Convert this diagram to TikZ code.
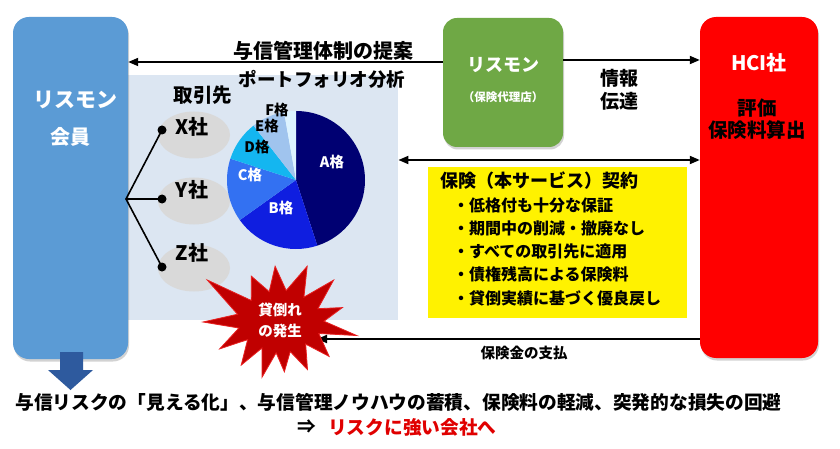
\documentclass[tikz,border=0pt]{standalone}
\usepackage{fontspec}
\setmainfont{Noto Sans CJK JP}
\usetikzlibrary{arrows.meta,shapes.geometric,shadows}
\definecolor{boxblue}{HTML}{5B9BD5}
\definecolor{boxgreen}{HTML}{6FA845}
\definecolor{bgblue}{HTML}{DCE6F2}
\definecolor{ellgray}{HTML}{D9D9D9}
\definecolor{pieA}{HTML}{000072}
\definecolor{pieB}{HTML}{0F1EE0}
\definecolor{pieC}{HTML}{3371F2}
\definecolor{pieD}{HTML}{14B6F0}
\definecolor{pieE}{HTML}{A0C4EE}
\definecolor{pieF}{HTML}{DDF3FF}
\definecolor{burstred}{HTML}{C00000}
\definecolor{burstedge}{HTML}{E82020}
\definecolor{downblue}{HTML}{2E5A9E}
\definecolor{redtext}{HTML}{E00000}
\newcommand\jfs[1]{\fontsize{#1}{#1}\selectfont}
\begin{document}
\begin{tikzpicture}[x=1pt,y=-1pt,
  every node/.style={inner sep=0pt},
  bigbox/.style={rounded corners=16pt, minimum width=#1, drop shadow={opacity=0.35, shadow xshift=1pt, shadow yshift=-2.5pt}},
  lbl/.style={font=\bfseries\jfs{#1}},
  arr/.style={line width=1.8pt, -{Triangle[length=10pt,width=8pt]}},
  darr/.style={line width=1.8pt, {Triangle[length=10pt,width=8pt]}-{Triangle[length=10pt,width=8pt]}},
  ell/.style={ellipse, fill=ellgray, minimum width=72pt, minimum height=47pt},
  dot/.style={circle, fill=black, minimum size=9pt},
  branch/.style={line width=1.6pt}
]
\useasboundingbox[fill=white] (0,0) rectangle (840,449);

% background panel
\node[fill=bgblue, minimum width=270pt, minimum height=245pt, anchor=north west] (bg) at (128,75) {};

% main boxes
\node[bigbox=115pt, fill=boxblue, minimum height=342pt] (blue) at (70.5,188) {};
\node[bigbox=120pt, fill=boxgreen, minimum height=129pt, rounded corners=14pt] (green) at (503,82.5) {};
\node[bigbox=118pt, fill=red, minimum height=341pt] (hci) at (759,187.5) {};
\node[fill=yellow, minimum width=259pt, minimum height=151pt, anchor=north west] (yel) at (428,167) {};

% box texts
\node[lbl=21, text=white] (bl1) at (75,100) {リスモン};
\node[lbl=20, text=white] (bl2) at (70,137) {会員};
\node[lbl=18, text=white] (gr1) at (503,65) {リスモン};
\node[lbl=11.5, text=white] (gr2) at (503,97) {（保険代理店）};
\node[lbl=20, text=white] (hc1) at (759,63) {HCI社};
\node[lbl=19.5] (hc2) at (757,108) {評価};
\node[lbl=19.5] (hc3) at (757,130) {保険料算出};

% connectors
\coordinate (r1) at (0,62);
\coordinate (r2) at (0,60);
\coordinate (r3) at (0,160);
\coordinate (r4) at (0,339);
\coordinate (btip) at (317,339);
\draw[arr] (green.west |- r1) -- (blue.east |- r1);
\draw[arr] (green.east |- r2) -- (hci.west |- r2);
\draw[darr] (bg.east |- r3) -- (hci.west |- r3);
\draw[arr] (hci.west |- r4) -- (btip);

\node[lbl=20] (t1) at (323,51) {与信管理体制の提案};
\node[lbl=18.5] (t2) at (322,79) {ポートフォリオ分析};
\node[lbl=19] (t3) at (619,78) {情報};
\node[lbl=19] (t4) at (619,101) {伝達};
\node[lbl=14.5] (t5) at (524,353) {保険金の支払};

% yellow box texts
\node[lbl=18, anchor=west] (y0) at (440,181) {保険（本サービス）契約};
\node[lbl=16, anchor=west] (y1) at (453,205) {・低格付も十分な保証};
\node[lbl=16, anchor=west] (y2) at (453,228) {・期間中の削減・撤廃なし};
\node[lbl=16, anchor=west] (y3) at (453,251) {・すべての取引先に適用};
\node[lbl=16, anchor=west] (y4) at (453,274) {・債権残高による保険料};
\node[lbl=16, anchor=west] (y5) at (453,298) {・貸倒実績に基づく優良戻し};

% trading partners
\node[lbl=19.5] (tr) at (203,95.5) {取引先};
\node[ell] (ex) at (194,135) {};
\node[ell] (ey) at (194,201) {};
\node[ell] (ez) at (194,268) {};
\node[lbl=20] (lx) at (192,127) {X社};
\node[lbl=20] (ly) at (192,190) {Y社};
\node[lbl=20] (lz) at (192,253) {Z社};
\node[dot] (dx) at (162,130) {};
\node[dot] (dy) at (162,199) {};
\node[dot] (dz) at (162,267) {};
\coordinate (br) at (126,199);
\draw[branch] (dx.center) -- (br) -- (dz.center);
\draw[branch] (br) -- (dy.center);

% pie chart
\begin{scope}[shift={(296,180)}, x=1pt, y=1pt]
\fill[pieA] (0,0) -- (90:69) arc[start angle=90, end angle=-72, radius=69] -- cycle;
\fill[pieB] (0,0) -- (-72:69) arc[start angle=-72, end angle=-144.5, radius=69] -- cycle;
\fill[pieC] (0,0) -- (215.5:69) arc[start angle=215.5, end angle=162, radius=69] -- cycle;
\fill[pieD] (0,0) -- (162:69) arc[start angle=162, end angle=128, radius=69] -- cycle;
\fill[pieE] (0,0) -- (128:69) arc[start angle=128, end angle=100, radius=69] -- cycle;
\fill[pieF] (0,0) -- (100:69) arc[start angle=100, end angle=90, radius=69] -- cycle;
\end{scope}
\node[lbl=14.5, text=white] (pa) at (332,162) {A格};
\node[lbl=14.5, text=white] (pb) at (281,208) {B格};
\node[lbl=14.5, text=white] (pc) at (250,175) {C格};
\node[lbl=14.5] (pd) at (257,147) {D格};
\node[lbl=14.5] (pe) at (267,126) {E格};
\node[lbl=14.5] (pf) at (277,110) {F格};

% burst
\begin{scope}[shift={(280,322)}, x=1pt, y=1pt]
\filldraw[fill=burstred, draw=burstedge, line width=0.8pt]
 (64:62) -- (51:38 and 32) -- (38:68) -- (25.5:42 and 31) -- (13:64) -- (1.5:44 and 30)
 -- (-10:78) -- (-22.5:42 and 30) -- (-35:60) -- (-47.5:38 and 30) -- (-60:55)
 -- (-72.5:34 and 31) -- (-85:50) -- (-96.5:34 and 31) -- (-108:58) -- (-120:36 and 30)
 -- (-132:58) -- (-144:40 and 30) -- (-156:66) -- (-168:42 and 29) -- (180:77)
 -- (165:44 and 30) -- (150:84) -- (136:40 and 31) -- (122:54) -- (108.5:34 and 32)
 -- (95:56) -- (79.5:34 and 32) -- cycle;
\end{scope}
\node[lbl=14.5, text=white] (bu1) at (280,310) {貸倒れ};
\node[lbl=14.5, text=white] (bu2) at (280,331) {の発生};

% down arrow
\fill[downblue] (60,352) -- (83,352) -- (83,370) -- (93,370) -- (70.5,390) -- (48,370) -- (60,370) -- cycle;

% bottom text
\node[lbl=18.7] (b1) at (398.5,402) {与信リスクの「見える化」、与信管理ノウハウの蓄積、保険料の軽減、突発的な損失の回避};
\node[lbl=18.7, anchor=west] (b2) at (297,427) {⇒};
\node[lbl=18.7, anchor=west, text=redtext] (b3) at (328,427) {リスクに強い会社へ};
\end{tikzpicture}
\end{document}
